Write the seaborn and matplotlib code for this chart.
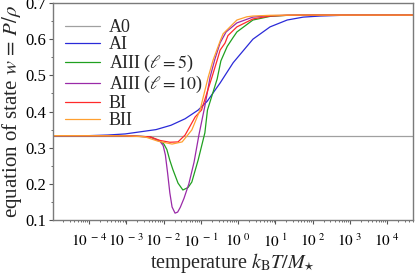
import numpy as np
import pandas as pd
import matplotlib
matplotlib.use("Agg")
import matplotlib.pyplot as plt
import matplotlib.ticker as mticker
import seaborn as sns

# curves: log10(k_B T / M) and w
a0_logT = [-5.0, 4.7]
a0_w = [1/3, 1/3]

ai_logT = [-5.0, -4.0, -3.5, -3.03, -2.2, -1.8, -1.42, -1.07, -0.83, -0.48,
           -0.13, 0.40, 0.86, 1.32, 1.75, 2.20, 3.0, 4.7]
ai_w = [0.3333, 0.3333, 0.335, 0.338, 0.350, 0.362, 0.380, 0.404, 0.428, 0.479,
        0.535, 0.600, 0.634, 0.653, 0.661, 0.664, 0.6667, 0.6667]

aiii5_logT = [-5.0, -3.03, -2.36, -2.09, -1.99, -1.91, -1.83, -1.75, -1.61, -1.48,
              -1.34, -1.24, -1.07, -0.89, -0.82, -0.56, -0.46, -0.29, -0.13,
              -0.03, 0.40, 0.86, 1.32, 2.0, 4.7]
aiii5_w = [0.3333, 0.333, 0.330, 0.318, 0.310, 0.295, 0.265, 0.240, 0.202, 0.183,
           0.190, 0.205, 0.266, 0.341, 0.404, 0.490, 0.540, 0.580, 0.605,
           0.620, 0.653, 0.663, 0.666, 0.6667, 0.6667]

aiii10_logT = [-5.0, -3.03, -2.36, -2.09, -2.01, -1.95, -1.89, -1.83, -1.77, -1.69,
               -1.62, -1.55, -1.45, -1.32, -1.18, -1.05, -0.94, -0.89, -0.75,
               -0.62, -0.48, -0.32, -0.03, 0.40, 0.86, 1.6, 4.7]
aiii10_w = [0.3333, 0.333, 0.330, 0.317, 0.306, 0.280, 0.230, 0.175, 0.136, 0.119,
            0.122, 0.135, 0.160, 0.200, 0.260, 0.335, 0.390, 0.415, 0.495,
            0.545, 0.590, 0.620, 0.645, 0.661, 0.665, 0.6667, 0.6667]

bi_logT = [-5.0, -3.03, -2.36, -2.09, -1.83, -1.61, -1.42, -1.15, -0.98, -0.70,
           -0.56, -0.48, -0.35, -0.27, -0.03, 0.40, 0.86, 1.32, 2.0, 4.7]
bi_w = [0.3333, 0.333, 0.330, 0.320, 0.315, 0.316, 0.335, 0.385, 0.404, 0.495,
        0.542, 0.570, 0.589, 0.610, 0.634, 0.656, 0.664, 0.666, 0.6667, 0.6667]

bii_logT = [-5.0, -3.03, -2.50, -2.15, -1.77, -1.50, -1.24, -1.02, -0.80, -0.67,
            -0.48, -0.40, -0.03, 0.24, 0.40, 0.86, 1.6, 4.7]
bii_w = [0.3333, 0.333, 0.330, 0.318, 0.310, 0.316, 0.349, 0.404, 0.495, 0.542,
         0.595, 0.615, 0.653, 0.662, 0.664, 0.666, 0.6667, 0.6667]

labels = ["A0", "AI", r"AIII ($\ell=5$)", r"AIII ($\ell=10$)", "BI", "BII"]
colors = ["#a0a0a0", "#2a2ad8", "#20a020", "#9a2aa8", "#ff2a2a", "#ffa030"]

series = [(a0_logT, a0_w), (ai_logT, ai_w), (aiii5_logT, aiii5_w),
          (aiii10_logT, aiii10_w), (bi_logT, bi_w), (bii_logT, bii_w)]

frames = []
for lab, (lt, w) in zip(labels, series):
    frames.append(pd.DataFrame({"T": 10.0 ** np.array(lt), "w": w, "model": lab}))
df = pd.concat(frames, ignore_index=True)

sns.set_style("ticks")
plt.rcParams['font.family'] = ['Liberation Serif', 'DejaVu Serif']
plt.rcParams['mathtext.fontset'] = 'stix'

fig = plt.figure(figsize=(4.16, 2.74), dpi=100)
ax = fig.add_axes([0.127, 0.197, 0.866, 0.792])

sns.lineplot(data=df, x="T", y="w", hue="model", palette=colors,
             estimator=None, sort=False, linewidth=0.9, ax=ax)

ax.set_xscale("log")
ax.set_xlim(1.07e-5, 5e4)
ax.set_ylim(0.1, 0.7)

ax.xaxis.set_major_locator(mticker.FixedLocator([10.0 ** k for k in range(-4, 5)]))
ax.xaxis.set_major_formatter(mticker.FuncFormatter(
    lambda v, p: r"$10^{\;%s\,%d}$" % ("-" if v < 1 else "", abs(round(np.log10(v))))))
ax.xaxis.set_minor_locator(mticker.LogLocator(base=10, subs=np.arange(2, 10), numticks=20))
ax.xaxis.set_minor_formatter(mticker.NullFormatter())
ax.yaxis.set_major_locator(mticker.MultipleLocator(0.1))
ax.yaxis.set_minor_locator(mticker.MultipleLocator(0.05))
ax.yaxis.set_major_formatter(mticker.FormatStrFormatter("%.1f"))

for s in ax.spines.values():
    s.set_color("#7a7a7a")
    s.set_linewidth(1.0)
ax.tick_params(axis="both", which="both", colors="#555555", labelcolor="black")
ax.tick_params(axis="x", which="major", length=3, labelsize=11, pad=6)
ax.tick_params(axis="y", which="major", length=3, labelsize=12, pad=2)
ax.tick_params(which="minor", length=1.5)

ax.set_xlabel(r"temperature $k_{\mathrm{B}}T/M_{\star}$", fontsize=14.5, labelpad=1)
ax.set_ylabel(r"equation of state $w\,=\,P/\rho$", fontsize=15, labelpad=1)

ax.legend(loc="upper left", bbox_to_anchor=(0.0, 0.985), frameon=False,
          fontsize=13, handlelength=1.9, handletextpad=0.5, labelspacing=0.0,
          borderaxespad=0.3)

fig.savefig("out.png", dpi=100)
